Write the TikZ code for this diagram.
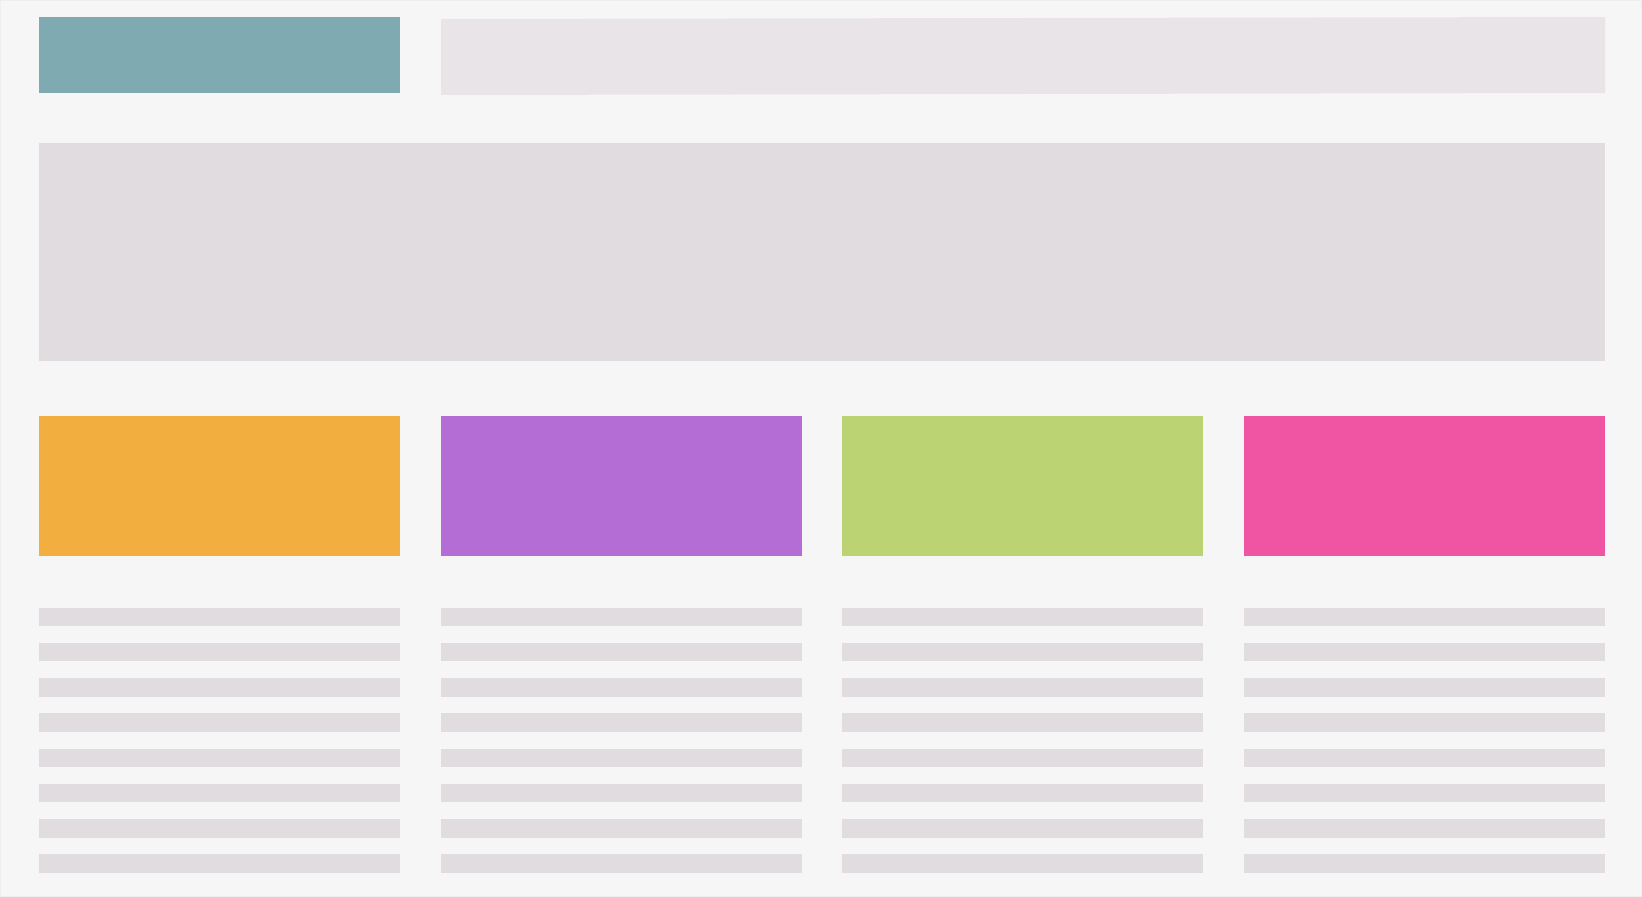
\documentclass[tikz,border=0pt]{standalone}
\definecolor{bgc}{HTML}{F6F6F6}
\definecolor{edgec}{HTML}{EEEEEE}
\definecolor{tealc}{HTML}{80AAB1}
\definecolor{bannerc}{HTML}{E9E4E8}
\definecolor{boxc}{HTML}{E1DCDF}
\definecolor{orangec}{HTML}{F3AE40}
\definecolor{purplec}{HTML}{B36DD5}
\definecolor{greenc}{HTML}{BCD373}
\definecolor{pinkc}{HTML}{EF55A3}
\begin{document}
\begin{tikzpicture}[x=1pt,y=-1pt,
  panel/.style={fill=#1},
  textline/.style={fill=boxc}]
\useasboundingbox (0,0) rectangle (1642,897);
\fill[bgc] (0,0) rectangle (1642,897);
\draw[edgec,line width=1pt] (0.5,0.5) rectangle (1641.5,896.5);
% header
\fill[panel=tealc] (39,17) rectangle (400,93);
\fill[panel=bannerc] (441,19) -- (1605,17) -- (1605,93) -- (441,95) -- cycle;
% hero
\fill[panel=boxc] (39,143) rectangle (1605,361);
% colour cards
\foreach \c [count=\i from 0] in {orangec,purplec,greenc,pinkc} {
  \pgfmathsetmacro{\xl}{39+401.5*\i}
  \fill[panel=\c] (\xl,416) rectangle ++(361,140);
  \foreach \j in {0,...,7} {
    \fill[textline] (\xl,607.6+35.25*\j) rectangle ++(361,18.4);
  }
}
\end{tikzpicture}
\end{document}
